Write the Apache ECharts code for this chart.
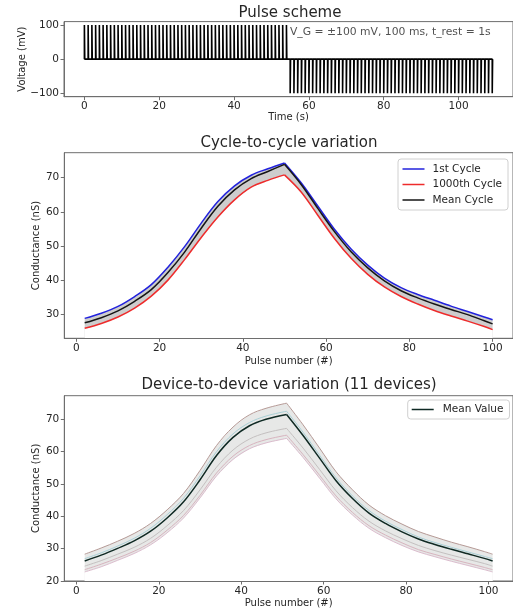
<!DOCTYPE html>
<html><head><meta charset="utf-8">
<script src="https://cdn.jsdelivr.net/npm/echarts@6/dist/echarts.min.js"></script>
<style>html,body{margin:0;padding:0;background:#fff}#c{width:513px;height:611px}</style>
</head><body><div id="c"></div>
<script>
// ---------- Data ----------
// Pulse scheme
const posPulseTimes = [0,1,2,3,4,5,6,7,8,9,10,11,12,13,14,15,16,17,18,19,20,21,22,23,24,25,26,27,28,29,30,31,32,33,34,35,36,37,38,39,40,41,42,43,44,45,46,47,48,49,50,51,52,53,54];
const negPulseTimes = [55,56,57,58,59,60,61,62,63,64,65,66,67,68,69,70,71,72,73,74,75,76,77,78,79,80,81,82,83,84,85,86,87,88,89,90,91,92,93,94,95,96,97,98,99,100,101,102,103,104,105,106,107,108,109];
const pulseAmplitude = 100;   // mV
const pulseWidth = 0.1;       // s
const pulseNote = 'V_G = \u00b1100 mV, 100 ms, t_rest = 1s';
const pulseNotePos = [54.8, 80];

// Cycle-to-cycle variation
const cycX     = [2,6,10,14,18,22,26,30,34,38,42,46,50,54,58,62,66,70,74,78,82,86,90,94,98,100];
const cycFirst = [28.8,30.3,32.3,35.2,38.7,43.8,49.8,56.7,63.0,67.6,70.7,72.6,74.3,68.5,61.7,54.9,49.1,44.4,40.6,37.8,35.8,34.1,32.4,30.8,29.2,28.4];
const cycLast  = [25.9,27.3,29.2,31.8,35.3,40.0,46.0,52.5,58.5,63.5,67.2,69.2,70.8,65.8,59.0,52.2,46.4,41.7,38.0,35.2,33.0,31.1,29.5,28.0,26.4,25.5];
const cycMean  = [27.5,29.0,31.0,33.8,37.2,42.2,48.2,55.2,61.6,66.4,69.7,71.8,73.9,68.0,61.0,54.2,48.3,43.6,39.8,36.9,34.8,33.0,31.4,29.9,28.1,27.2];

// Device-to-device variation
const devX    = [2,6,10,14,18,22,26,30,34,38,42,46,51,55,59,63,67,71,75,79,83,87,91,95,99,101];
const devMax  = [28.3,30.2,32.3,34.7,37.8,42.0,47.1,54.2,61.9,67.6,71.4,73.4,75.0,68.3,61.1,53.8,48.2,43.5,40.2,37.6,35.3,33.6,32.0,30.6,29.1,28.3];
const devTeal = [26.9,28.7,30.8,33.2,36.3,40.5,45.6,52.5,60.0,65.5,69.0,71.0,72.5,66.0,58.9,51.9,46.3,41.8,38.5,35.9,33.6,31.9,30.4,29.0,27.6,26.9];
const devGray = [24.6,26.3,28.3,30.4,33.2,37.1,41.8,48.2,55.2,60.5,63.9,65.8,67.2,61.1,54.5,47.9,42.7,38.5,35.5,33.1,31.0,29.4,28.0,26.7,25.4,24.6];
const devPink = [23.5,25.2,27.1,29.2,31.9,35.7,40.3,46.5,53.4,58.6,61.9,63.7,65.1,59.1,52.7,46.3,41.2,37.1,34.2,31.8,29.7,28.2,26.8,25.5,24.2,23.5];
const devMin  = [22.8,24.4,26.4,28.5,31.2,34.9,39.5,45.7,52.5,57.6,60.9,62.7,64.1,58.2,51.8,45.4,40.4,36.3,33.4,31.0,29.0,27.5,26.1,24.8,23.5,22.8];
const devMean = [26.2,28.0,30.1,32.4,35.4,39.5,44.5,51.3,58.8,64.4,68.0,70.0,71.5,65.0,58.0,51.0,45.5,41.0,37.8,35.2,33.0,31.3,29.8,28.4,27.0,26.2];

// Tick labels
const timeTicks = [0,20,40,60,80,100];
const voltTicks = [-100,0,100];
const pulseTicks = [0,20,40,60,80,100];
const cycTicksY = [30,40,50,60,70];
const devTicksY = [20,30,40,50,60,70];

// ---------- Build ----------
const pulseLine = [];
posPulseTimes.forEach(t => { pulseLine.push([t,0],[t,pulseAmplitude],[t+pulseWidth,pulseAmplitude],[t+pulseWidth,0]); });
negPulseTimes.forEach(t => { pulseLine.push([t,0],[t,-pulseAmplitude],[t+pulseWidth,-pulseAmplitude],[t+pulseWidth,0]); });
const zip = (xs, ys) => xs.map((x,i) => [x, ys[i]]);

const FONT = 'DejaVu Sans';
const TXT = '#262626';
const SPINE = '#6e6e6e';

function xAx(grid, min, max, ticks, name, gap) {
  return {
    gridIndex: grid, type: 'value', min, max, name, nameLocation: 'middle', nameGap: gap, nameMoveOverlap: false,
    nameTextStyle: {fontFamily: FONT, fontSize: 10, color: TXT},
    axisLine: {show: true, onZero: false, lineStyle: {color: SPINE, width: 1}}, z: 10,
    axisTick: {show: true, inside: false, length: 3.5, customValues: ticks, lineStyle: {color: SPINE, width: 1}},
    axisLabel: {customValues: ticks, margin: 4.5, fontFamily: FONT, fontSize: 10.5, color: TXT},
    splitLine: {show: false}
  };
}
function yAx(grid, min, max, ticks, name, gap) {
  return {
    gridIndex: grid, type: 'value', min, max, name, nameLocation: 'middle', nameGap: gap, nameMoveOverlap: false,
    nameTextStyle: {fontFamily: FONT, fontSize: 10, color: TXT},
    axisLine: {show: true, onZero: false, lineStyle: {color: SPINE, width: 1}}, z: 10,
    axisTick: {show: true, inside: false, length: 3.5, customValues: ticks, lineStyle: {color: SPINE, width: 1}},
    axisLabel: {customValues: ticks, margin: 5, fontFamily: FONT, fontSize: 10.5, color: TXT,
      formatter: v => v < 0 ? '\u2212' + Math.abs(v) : String(v)},
    splitLine: {show: false}
  };
}
const gridBase = {show: true, borderColor: SPINE, borderWidth: 1, backgroundColor: 'transparent', containLabel: false};

// visible curves: split at the peak so the peak keeps its sharp corner; each half is smoothed
function peakIndex(ys) { return ys.indexOf(Math.max.apply(null, ys)); }
function curve(name, axis, xs, ys, splitAt, extra) {
  const a = zip(xs, ys).slice(0, splitAt + 1), b = zip(xs, ys).slice(splitAt);
  return [a, b].map(d => Object.assign({
    type: 'line', name, xAxisIndex: axis, yAxisIndex: axis, data: d,
    symbol: 'none', showSymbol: false, smooth: 0.35, animation: false, silent: true
  }, JSON.parse(JSON.stringify(extra))));
}
// band fills: one unsplit polyline area each (hidden under the drawn curves)
function fill(name, axis, xs, ys, color, z) {
  return {type: 'line', name, xAxisIndex: axis, yAxisIndex: axis, data: zip(xs, ys), symbol: 'none', showSymbol: false,
    smooth: false, animation: false, silent: true, lineStyle: {width: 0, opacity: 0},
    areaStyle: {color, opacity: 1, origin: 'start'}, z};
}
const cycSplit = peakIndex(cycFirst);
const devSplit = peakIndex(devMean);

const series = [
  {type: 'line', name: 'pulses', xAxisIndex: 0, yAxisIndex: 0, data: pulseLine, symbol: 'none', showSymbol: false,
   lineStyle: {color: '#000', width: 1.6}, animation: false, z: 3, silent: true},
  {type: 'scatter', name: 'note', xAxisIndex: 0, yAxisIndex: 0, data: [pulseNotePos], symbolSize: 1,
   itemStyle: {color: 'rgba(0,0,0,0)'}, silent: true, z: 5,
   label: {show: true, position: 'right', distance: 0, formatter: pulseNote, fontFamily: FONT, fontSize: 10.8, color: TXT}}
];
// cycle band: grey under 1st cycle, then white under 1000th cycle
series.push(fill('cycFillUpper', 1, cycX, cycFirst, '#cdcdcd', 1));
series.push(fill('cycFillLower', 1, cycX, cycLast, '#ffffff', 1.5));
series.push(...curve('1st Cycle', 1, cycX, cycFirst, cycSplit, {lineStyle: {color: '#2222dd', width: 1.5}, itemStyle: {color: '#2222dd'}, z: 3}));
series.push(...curve('1000th Cycle', 1, cycX, cycLast, cycSplit, {lineStyle: {color: '#ee2b2b', width: 1.5}, itemStyle: {color: '#ee2b2b'}, z: 3}));
series.push(...curve('Mean Cycle', 1, cycX, cycMean, cycSplit, {lineStyle: {color: '#151515', width: 1.5}, itemStyle: {color: '#151515'}, z: 4}));
// device band
series.push(fill('devFillUpper', 2, devX, devMax, '#e7e8e7', 1));
series.push(fill('devFillLower', 2, devX, devMin, '#ffffff', 1.5));
series.push(...curve('dev1', 2, devX, devMax, devSplit, {lineStyle: {color: '#b69a96', width: 1}, z: 2}));
series.push(...curve('dev2', 2, devX, devTeal, devSplit, {lineStyle: {color: '#a9d0d6', width: 1}, z: 2}));
series.push(...curve('dev3', 2, devX, devGray, devSplit, {lineStyle: {color: '#c4c0c0', width: 1}, z: 2}));
series.push(...curve('dev4', 2, devX, devPink, devSplit, {lineStyle: {color: '#d8b4bf', width: 1}, z: 2}));
series.push(...curve('dev5', 2, devX, devMin, devSplit, {lineStyle: {color: '#dbbccd', width: 1}, z: 2}));
series.push(...curve('Mean Value', 2, devX, devMean, devSplit, {lineStyle: {color: '#0f2a24', width: 1.5}, itemStyle: {color: '#0f2a24'}, z: 4}));

const legendBase = {orient: 'vertical', icon: 'rect', itemWidth: 22, itemHeight: 1.5, itemGap: 4.5,
  backgroundColor: '#fff', borderColor: '#d0d0d0', borderWidth: 1, borderRadius: 3, selectedMode: false,
  textStyle: {fontFamily: FONT, fontSize: 10.5, color: TXT, padding: [0,0,0,3]}};

const option = {
  animation: false,
  backgroundColor: '#fff',
  title: [
    {text: 'Pulse scheme', left: 290, top: 5.5, textAlign: 'center', padding: 0, textStyle: {fontFamily: FONT, fontSize: 15, fontWeight: 'normal', color: TXT}},
    {text: 'Cycle-to-cycle variation', left: 289, top: 135.5, textAlign: 'center', padding: 0, textStyle: {fontFamily: FONT, fontSize: 15, fontWeight: 'normal', color: TXT}},
    {text: 'Device-to-device variation (11 devices)', left: 289, top: 377.5, textAlign: 'center', padding: 0, textStyle: {fontFamily: FONT, fontSize: 15, fontWeight: 'normal', color: TXT}}
  ],
  grid: [
    Object.assign({left: 64, top: 21.6, width: 452.4, height: 75.1}, gridBase),
    Object.assign({left: 64.3, top: 152.7, width: 450.6, height: 185.6}, gridBase),
    Object.assign({left: 64.3, top: 395.7, width: 450.3, height: 185.3}, gridBase)
  ],
  xAxis: [
    xAx(0, -5.45, 114.55, timeTicks, 'Time (s)', 16),
    xAx(1, -2.9, 104.9, pulseTicks, 'Pulse number (#)', 18),
    xAx(2, -2.95, 105.95, pulseTicks, 'Pulse number (#)', 17.3)
  ],
  yAxis: [
    yAx(0, -110, 110, voltTicks, 'Voltage (mV)', 37),
    yAx(1, 22.97, 77.3, cycTicksY, 'Conductance (nS)', 22.5),
    yAx(2, 20, 77.3, devTicksY, 'Conductance (nS)', 22.5)
  ],
  legend: [
    Object.assign({}, legendBase, {data: ['1st Cycle','1000th Cycle','Mean Cycle'], left: 398, top: 159, padding: [4.5,6,4.5,4.5]}),
    Object.assign({}, legendBase, {data: ['Mean Value'], left: 407.7, top: 400, padding: [4,6,4,4],
      textStyle: {fontFamily: FONT, fontSize: 10.5, color: TXT, padding: [0,0,0,4]}})
  ],
  series
};
const chart = echarts.init(document.getElementById('c'), null, {renderer: 'canvas'});
chart.setOption(option);
</script>
</body></html>
